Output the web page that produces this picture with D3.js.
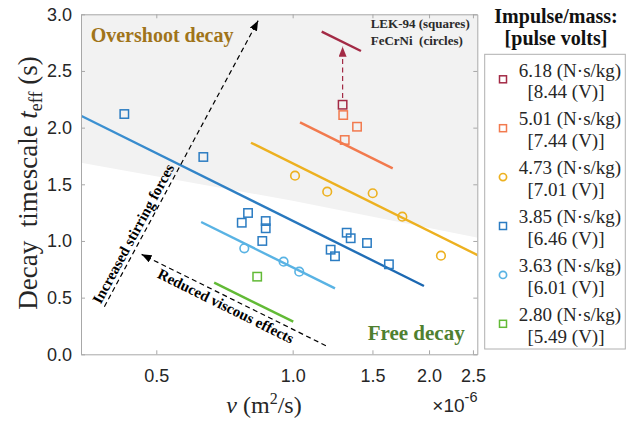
<!DOCTYPE html>
<html><head><meta charset="utf-8">
<script src="https://cdn.jsdelivr.net/npm/d3@7"></script>
<style>body{margin:0;background:#fff}text{white-space:pre}</style>
</head><body>
<svg id="c" width="634" height="423"></svg>
<script>
// ---------- data (nu in units of 1e-6 m^2/s, t in s) ----------
const xTicks = [0.5, 1.0, 1.5, 2.0, 2.5];
const yTicks = [0, 0.5, 1.0, 1.5, 2.0, 2.5, 3.0];

const impulse = ["6.18", "5.01", "4.73", "3.85", "3.63", "2.80"];
const volts   = ["8.44", "7.44", "7.01", "6.46", "6.01", "5.49"];
const shapes  = ["square", "square", "circle", "square", "circle", "square"];

const nu618 = [1.289];
const t618  = [2.202];
const nu501 = [1.293, 1.387, 1.303];
const t501  = [2.111, 2.008, 1.891];
const nu473 = [1.012, 1.192, 1.502, 1.746, 2.125];
const t473  = [1.576, 1.435, 1.421, 1.214, 0.870];
const nu385 = [0.425, 0.635, 0.772, 0.797, 0.872, 0.872, 0.857, 1.316, 1.343, 1.213, 1.240, 1.459, 1.631];
const t385  = [2.120, 1.741, 1.161, 1.247, 1.176, 1.112, 1.000, 1.073, 1.024, 0.923, 0.865, 0.982, 0.794];
const nu363 = [0.782, 0.955, 1.034];
const t363  = [0.935, 0.817, 0.729];
const nu280 = [0.835];
const t280  = [0.685];

// fitted trend lines (end points)
const fitNu618 = [1.159, 1.415], fitT618 = [2.847, 2.676];
const fitNu501 = [1.038, 1.663], fitT501 = [2.047, 1.641];
const fitNu473 = [0.809, 2.60],  fitT473 = [1.867, 0.862];
const fitNu385 = [0.341, 1.949], fitT385 = [2.105, 0.603];
const fitNu363 = [0.628, 1.240], fitT363 = [1.167, 0.582];
const fitNu280 = [0.671, 1.003], fitT280 = [0.632, 0.288];

// overshoot / free decay boundary
const boundNu = [0.30, 1.0, 2.70];
const boundT  = [1.730, 1.355, 1.010];

// annotation arrows
const stirNu = [0.384, 0.839], stirT = [0.420, 2.944];
const viscNu = [1.184, 0.464], viscT = [0.076, 0.882];
const redNu  = [1.289, 1.289], redT  = [2.262, 2.714];

// ---------- styles ----------
const colors = ["#A32A45", "#F27A4E", "#EDB120", "#2B7CC2", "#59B3E4", "#62BA36"];
const L = 81, R = 477.3, T = 14.3, B = 354.3;

const svg = d3.select("#c");
const x = d3.scaleLog().domain([0.341, 2.556]).range([L, R]);
const y = d3.scaleLinear().domain([0, 3]).range([B, T]);

const defs = svg.append("defs");
defs.append("clipPath").attr("id", "clip").append("rect")
  .attr("x", L).attr("y", T).attr("width", R - L).attr("height", B - T);
function mk(id, col) {
  defs.append("marker").attr("id", id).attr("markerUnits", "userSpaceOnUse")
    .attr("viewBox", "0 0 10 8").attr("refX", 10).attr("refY", 4)
    .attr("markerWidth", 10).attr("markerHeight", 8).attr("orient", "auto")
    .append("path").attr("d", "M0,0L10,4L0,8Z").attr("fill", col);
}
mk("ah", "#000"); mk("ahr", "#A32A45");

const plot = svg.append("g").attr("clip-path", "url(#clip)");

// shaded overshoot region
const bpts = boundNu.map((n, i) => [x(n), y(boundT[i])]);
const area = d3.area().x(d => d[0]).y0(d => d[1]).y1(y(3.2));
plot.append("path").datum(bpts).attr("d", area).attr("fill", "#F2F2F2");

const series = [
  {nu: nu618, t: t618, fn: fitNu618, ft: fitT618},
  {nu: nu501, t: t501, fn: fitNu501, ft: fitT501},
  {nu: nu473, t: t473, fn: fitNu473, ft: fitT473},
  {nu: nu385, t: t385, fn: fitNu385, ft: fitT385},
  {nu: nu363, t: t363, fn: fitNu363, ft: fitT363},
  {nu: nu280, t: t280, fn: fitNu280, ft: fitT280},
];

// gradient for the 3.85 line
const g385 = defs.append("linearGradient").attr("id", "g385").attr("gradientUnits", "userSpaceOnUse")
  .attr("x1", x(fitNu385[0])).attr("y1", y(fitT385[0])).attr("x2", x(fitNu385[1])).attr("y2", y(fitT385[1]));
g385.append("stop").attr("offset", 0).attr("stop-color", "#3E93D3");
g385.append("stop").attr("offset", 1).attr("stop-color", "#1A66B0");

const line = d3.line().x(d => x(d[0])).y(d => y(d[1]));
series.forEach((s, i) => {
  const pts = s.fn.map((n, j) => [n, s.ft[j]]);
  plot.append("path").datum(pts).attr("d", line).attr("fill", "none")
    .attr("stroke", i === 3 ? "url(#g385)" : colors[i]).attr("stroke-width", 2.4);
});

// arrows
function arrow(nus, ts, col, m) {
  const pts = nus.map((n, j) => [n, ts[j]]);
  svg.append("path").datum(pts).attr("d", line).attr("fill", "none")
    .attr("stroke", col).attr("stroke-width", 1.2).attr("stroke-dasharray", "5,3.5")
    .attr("marker-end", `url(#${m})`);
}
arrow(stirNu, stirT, "#000", "ah");
arrow(viscNu, viscT, "#000", "ah");
arrow(redNu, redT, "#A32A45", "ahr");

// markers
series.forEach((s, i) => {
  const g = plot.append("g");
  s.nu.forEach((n, j) => {
    const cx = x(n), cy = y(s.t[j]);
    if (shapes[i] === "square") {
      g.append("rect").attr("x", cx - 4.2).attr("y", cy - 4.2).attr("width", 8.4).attr("height", 8.4)
        .attr("fill", "none").attr("stroke", colors[i]).attr("stroke-width", 1.5);
    } else {
      g.append("circle").attr("cx", cx).attr("cy", cy).attr("r", 4.3)
        .attr("fill", "none").attr("stroke", colors[i]).attr("stroke-width", 1.6);
    }
  });
});

// axes
const axCol = "#A8A8A8";
const tickFont = "'Liberation Sans', Arial, sans-serif";
const fmt = d3.format(".1f");
function styleAxis(g, showLabels) {
  g.select(".domain").attr("stroke", axCol).attr("stroke-width", 1);
  g.selectAll(".tick line").attr("stroke", axCol);
  g.selectAll(".tick text").attr("fill", "#262626").style("font-family", tickFont).style("font-size", "18px");
  if (!showLabels) g.selectAll(".tick text").remove();
}
svg.append("g").attr("transform", `translate(0,${B})`)
  .call(d3.axisBottom(x).tickValues(xTicks).tickFormat(fmt).tickSizeInner(-4).tickSizeOuter(0).tickPadding(15))
  .call(g => styleAxis(g, true));
svg.append("g").attr("transform", `translate(0,${T})`)
  .call(d3.axisTop(x).tickValues(xTicks).tickSizeInner(-4).tickSizeOuter(0))
  .call(g => styleAxis(g, false));
svg.append("g").attr("transform", `translate(${L},0)`)
  .call(d3.axisLeft(y).tickValues(yTicks).tickFormat(fmt).tickSizeInner(-4).tickSizeOuter(0).tickPadding(9))
  .call(g => styleAxis(g, true));
svg.append("g").attr("transform", `translate(${R},0)`)
  .call(d3.axisRight(y).tickValues(yTicks).tickSizeInner(-4).tickSizeOuter(0))
  .call(g => styleAxis(g, false));

// exponent
const ex = svg.append("text").attr("x", 477.5).attr("y", 412).attr("text-anchor", "end").attr("fill", "#262626")
  .style("font-family", tickFont).style("font-size", "19px");
ex.append("tspan").text("\u00D710");
ex.append("tspan").attr("dy", -10).style("font-size", "14.5px").text("-6");

// axis labels
const serif = "'Liberation Serif', 'Times New Roman', serif";
const xl = svg.append("text").attr("x", 264).attr("y", 413).attr("text-anchor", "middle")
  .attr("fill", "#262626").style("font-family", serif).style("font-size", "24px");
xl.append("tspan").style("font-style", "italic").text("\u03BD");
xl.append("tspan").text(" (m");
xl.append("tspan").attr("dy", -9).style("font-size", "16px").text("2");
xl.append("tspan").attr("dy", 9).text("/s)");

const yl = svg.append("text").attr("transform", "translate(37,183) rotate(-90)").attr("text-anchor", "middle")
  .attr("fill", "#262626").style("font-family", serif).style("font-size", "27px");
yl.append("tspan").text("Decay  timescale ");
yl.append("tspan").style("font-style", "italic").text("t");
yl.append("tspan").attr("dy", 5).style("font-size", "18px").text("eff");
yl.append("tspan").attr("dy", -5).text(" (s)");

// region labels
svg.append("text").attr("x", 90.7).attr("y", 41.7).attr("fill", "#A0741A")
  .style("font-family", serif).style("font-weight", "bold").style("font-size", "20px").text("Overshoot decay");
svg.append("text").attr("x", 367.7).attr("y", 339.5).attr("fill", "#4F8030")
  .style("font-family", serif).style("font-weight", "bold").style("font-size", "21px").text("Free decay");
svg.append("text").attr("x", 370.7).attr("y", 28.3).attr("fill", "#2a2a2a")
  .style("font-family", serif).style("font-weight", "bold").style("font-size", "13px").text("LEK-94 (squares)");
svg.append("text").attr("x", 370.7).attr("y", 45).attr("fill", "#2a2a2a")
  .style("font-family", serif).style("font-weight", "bold").style("font-size", "13px").text("FeCrNi  (circles)");

// arrow annotation labels
function along(nus, ts, reverse, dist, off, label) {
  let p0 = [x(nus[0]), y(ts[0])], p1 = [x(nus[1]), y(ts[1])];
  if (reverse) [p0, p1] = [p1, p0];
  const dx = p1[0] - p0[0], dy = p1[1] - p0[1], len = Math.hypot(dx, dy);
  const ux = dx / len, uy = dy / len;
  const px = p0[0] + ux * dist + (-uy) * off, py = p0[1] + uy * dist + ux * off;
  const ang = Math.atan2(dy, dx) * 180 / Math.PI;
  svg.append("text").attr("transform", `translate(${px},${py}) rotate(${ang})`)
    .attr("text-anchor", "middle").attr("dominant-baseline", "central").attr("fill", "#000")
    .style("font-family", serif).style("font-weight", "bold").style("font-size", "15px").text(label);
}
along(stirNu, stirT, false, 78, -9, "Increased stirring forces");
along(viscNu, viscT, true, 98.5, 9, "Reduced viscous effects");

// legend
const lt = svg.append("g").attr("fill", "#111").style("font-family", serif)
  .style("font-weight", "bold").style("font-size", "20px").attr("text-anchor", "middle");
lt.append("text").attr("x", 556).attr("y", 22.5).text("Impulse/mass:");
lt.append("text").attr("x", 556).attr("y", 45).text("[pulse volts]");
svg.append("rect").attr("x", 484.7).attr("y", 54.3).attr("width", 140.6).attr("height", 294.7)
  .attr("fill", "#fff").attr("stroke", "#B0B0B0").attr("stroke-width", 1);
impulse.forEach((imp, i) => {
  const my = 79.3 + i * 48.9, mx = 503;
  if (shapes[i] === "square") {
    svg.append("rect").attr("x", mx - 3.5).attr("y", my - 3.5).attr("width", 7).attr("height", 7)
      .attr("fill", "none").attr("stroke", colors[i]).attr("stroke-width", 1.5);
  } else {
    svg.append("circle").attr("cx", mx).attr("cy", my).attr("r", 3.6)
      .attr("fill", "none").attr("stroke", colors[i]).attr("stroke-width", 1.7);
  }
  const tg = svg.append("g").attr("fill", "#262626").style("font-family", serif)
    .style("font-size", "19px").attr("text-anchor", "middle");
  tg.append("text").attr("x", 570).attr("y", my - 2.8).text(`${imp} (N\u00B7s/kg)`);
  tg.append("text").attr("x", 566).attr("y", my + 19).text(`[${volts[i]} (V)]`);
});
</script>
</body></html>
